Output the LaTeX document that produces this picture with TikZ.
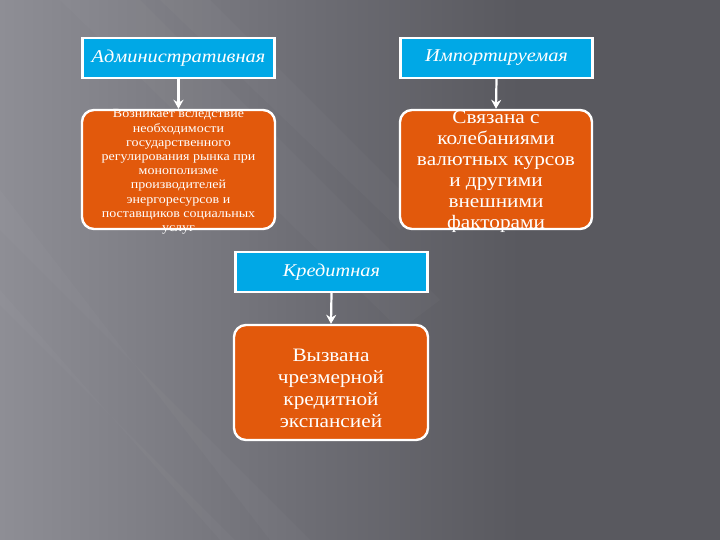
\documentclass[tikz,border=0pt]{standalone}
\usepackage{fontspec}
\setmainfont{Liberation Serif}
\newfontfamily\titlefont[FakeStretch=1.13]{Liberation Serif}
\newfontfamily\bodyfont[FakeStretch=1.12]{Liberation Serif}
\usetikzlibrary{arrows.meta}
\definecolor{bluebox}{HTML}{00A8E6}
\definecolor{orbox}{HTML}{E2590C}
\definecolor{bgA}{HTML}{8E8E95}
\definecolor{bgM}{HTML}{6E6E75}
\definecolor{bgB}{HTML}{59595F}
\begin{document}
\begin{tikzpicture}[x=1pt,y=-1pt,
  bbox/.style={draw=white, line width=2.2pt, fill=bluebox, minimum width=192pt, minimum height=40pt, inner sep=0pt, text=white, font=\titlefont\itshape\fontsize{18}{20}\selectfont},
  obox/.style={draw=white, line width=2.4pt, fill=orbox, rounded corners=12pt, inner sep=0pt},
  otext/.style={text=white, align=center, inner sep=0pt},
  conn/.style={draw=white, line width=2.2pt, -{Stealth[length=9pt,width=10pt]}},
  streak/.style={white, opacity=0.025}]
\useasboundingbox (0,0) rectangle (720,540);
\fill[bgB] (0,0) rectangle (720,540);
\shade[left color=bgA, right color=bgM] (0,0) rectangle (300,540);
\shade[left color=bgM, right color=bgB] (299.5,0) rectangle (520,540);
\fill[streak] (0,190) -- (0,230) -- (310,540) -- (270,540) -- cycle;
\fill[streak] (0,290) -- (0,305) -- (235,540) -- (220,540) -- cycle;
\fill[streak] (60,0) -- (140,0) -- (440,300) -- (400,330) -- cycle;
\fill[streak] (160,0) -- (210,0) -- (420,210) -- (400,230) -- cycle;

\node[bbox] (b1) at (178.5,58) {Административная};
\node[bbox] (b2) at (496.5,58) {Импортируемая};
\node[bbox] (b3) at (331.5,272) {Кредитная};

\node[obox, minimum width=193pt, minimum height=119pt] (o1) at (178.5,169.5) {};
\node[obox, minimum width=192pt, minimum height=119pt] (o2) at (496,169.5) {};
\node[obox, minimum width=194pt, minimum height=115pt] (o3) at (331,382.5) {};

\node[otext, font=\bodyfont\fontsize{12.5}{14.2}\selectfont] (t1) at (178.5,172) {Возникает вследствие\\необходимости\\государственного\\регулирования рынка при\\монополизме\\производителей\\энергоресурсов и\\поставщиков социальных\\услуг};
\node[otext, font=\bodyfont\fontsize{19}{21}\selectfont] (t2) at (496,172) {Связана с\\колебаниями\\валютных курсов\\и другими\\внешними\\факторами};
\node[otext, font=\bodyfont\fontsize{19}{22}\selectfont] (t3) at (331,388) {Вызвана\\чрезмерной\\кредитной\\экспансией};

\draw[conn] (b1.south) -- (o1.north);
\draw[conn] (b2.south) -- (o2.north);
\draw[conn] (b3.south) -- (o3.north);
\end{tikzpicture}
\end{document}
